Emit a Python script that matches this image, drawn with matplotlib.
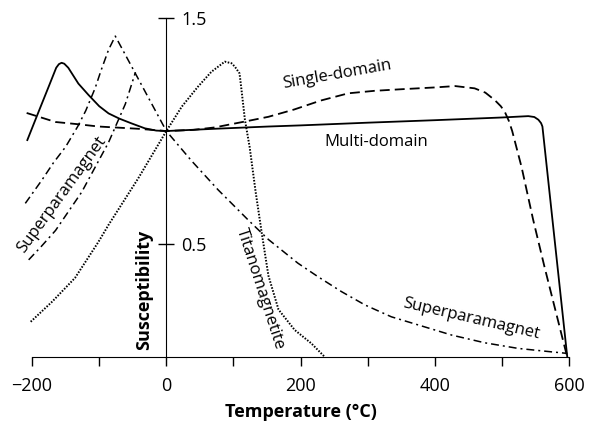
import matplotlib
matplotlib.use("Agg")
import matplotlib.pyplot as plt

plt.rcParams['font.family'] = ['Open Sans', 'DejaVu Sans']

# Multi-domain (solid)
md_t = [-207, -190, -175, -164, -160, -156, -152, -146, -131, -116, -100, -86, -70, -52, -32, -15, 0,
        72, 152, 200, 300, 400, 500, 539, 548, 554, 558, 560, 575, 597]
md_k = [0.96, 1.087, 1.198, 1.28, 1.296, 1.302, 1.298, 1.28, 1.21, 1.16, 1.11, 1.078, 1.055, 1.034, 1.012, 1.002, 1.0,
        1.01, 1.02, 1.025, 1.037, 1.048, 1.06, 1.066, 1.062, 1.05, 1.035, 1.02, 0.606, 0.0]

# Single-domain (dashed)
sd_t = [-208, -165, -131, -101, -42, 0, 40, 72, 122, 152, 190, 230, 271, 310, 350, 400, 430, 459, 475, 489, 498,
        504, 510, 515, 529, 546, 563, 593, 597]
sd_k = [1.08, 1.04, 1.03, 1.02, 1.01, 1.0, 1.005, 1.016, 1.045, 1.063, 1.095, 1.135, 1.167, 1.178, 1.185, 1.193,
        1.199, 1.189, 1.17, 1.137, 1.11, 1.085, 1.045, 1.0, 0.84, 0.61, 0.40, 0.046, 0.0]

# Superparamagnet (dash-dot): outer branch + high-T tail
sp_t = [-210, -186, -168, -150, -132, -120, -106, -97, -86, -76, 0, 37, 77, 122, 152, 196, 226, 261, 296, 335,
        375, 425, 474, 524, 573, 597]
sp_k = [0.68, 0.78, 0.86, 0.93, 1.02, 1.09, 1.19, 1.27, 1.36, 1.42, 1.0, 0.87, 0.74, 0.606, 0.52, 0.415, 0.355,
        0.289, 0.23, 0.178, 0.142, 0.097, 0.063, 0.038, 0.023, 0.016]
# Superparamagnet inner branch
sp2_t = [-205, -186, -165, -126, -106, -86, -61, -46]
sp2_k = [0.43, 0.49, 0.56, 0.73, 0.84, 0.95, 1.12, 1.26]

# Titanomagnetite (dotted)
tm_t = [-202, -170, -136, -101, -86, -42, 0, 23, 47, 67, 87, 97, 102, 109, 112, 117, 124, 133, 142, 152, 167,
        191, 216, 236]
tm_k = [0.156, 0.245, 0.35, 0.51, 0.585, 0.79, 1.0, 1.108, 1.196, 1.262, 1.307, 1.30, 1.285, 1.255, 1.18, 1.05,
        0.93, 0.73, 0.55, 0.36, 0.21, 0.12, 0.06, 0.0]

xmajor = [-200, 0, 200, 400, 600]
xminor = [-100, 100, 300, 500]
yticks = [0.5, 1.5]

fig = plt.figure(figsize=(5.94, 4.22), dpi=100)
ax = fig.add_axes([0.0313, 0.154, 0.9497, 0.830])
ax.set_xlim(-220, 620)
ax.set_ylim(0, 1.55)

ax.plot(md_t, md_k, color='black', lw=1.3, clip_on=False)
ax.plot(sd_t, sd_k, color='black', lw=1.3, dashes=(5.5, 2.8), clip_on=False)
ax.plot(sp_t, sp_k, color='black', lw=1.1, dashes=(5.2, 2.6, 1.3, 2.6), clip_on=False)
ax.plot(sp2_t, sp2_k, color='black', lw=1.1, dashes=(5.2, 2.6, 1.3, 2.6), clip_on=False)
ax.plot(tm_t, tm_k, color='black', lw=1.4, dashes=(0.8, 0.8), clip_on=False)

# axes: y spine at T = 0, labels on its right
ax.spines['top'].set_visible(False)
ax.spines['left'].set_visible(False)
ax.spines['right'].set_position(('data', 0))
ax.spines['right'].set_bounds(0, 1.5)
ax.spines['bottom'].set_bounds(-200, 600)
ax.yaxis.tick_right()
ax.set_yticks(yticks)
ax.set_yticklabels(['0.5', '1.5'])
ax.tick_params(axis='y', direction='inout', length=11, width=1, labelsize=13, pad=5.5)
ax.set_xticks(xmajor)
ax.set_xticklabels(['\u2212200', '0', '200', '400', '600'])
ax.set_xticks(xminor, minor=True)
ax.tick_params(axis='x', which='both', direction='out', length=6.5, width=1, labelsize=13, pad=8)

ax.set_xlabel('Temperature (\u00b0C)', fontsize=13, fontweight='bold', labelpad=6)
ax.text(-33, 0.03, 'Susceptibility', rotation=90, ha='center', va='bottom', fontsize=13, fontweight='bold')

ax.text(254, 1.25, 'Single-domain', rotation=10, ha='center', va='center', fontsize=12)
ax.text(312, 0.95, 'Multi-domain', ha='center', va='center', fontsize=12)
ax.text(454, 0.17, 'Superparamagnet', rotation=-13, ha='center', va='center', fontsize=12)
ax.text(140, 0.30, 'Titanomagnetite', rotation=-72, ha='center', va='center', fontsize=12)
ax.text(-156, 0.72, 'Superparamagnet', rotation=54, ha='center', va='center', fontsize=12)

fig.savefig('out.png', dpi=100)
